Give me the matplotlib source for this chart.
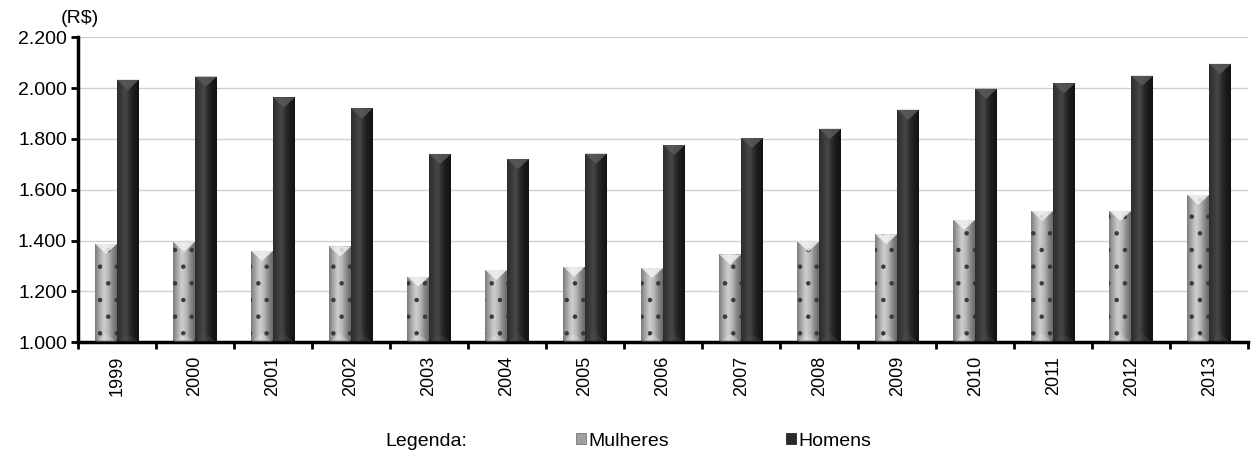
import numpy as np
import matplotlib.pyplot as plt
from matplotlib.patches import Polygon, Rectangle
from matplotlib.colors import LinearSegmentedColormap
from matplotlib.ticker import FuncFormatter

plt.rcParams['font.family'] = ['Liberation Sans', 'DejaVu Sans']

# Rendimento médio (R$) por sexo
anos = ['1999', '2000', '2001', '2002', '2003', '2004', '2005', '2006',
        '2007', '2008', '2009', '2010', '2011', '2012', '2013']
mulheres = [1387, 1395, 1359, 1377, 1258, 1284, 1297, 1292,
            1345, 1396, 1425, 1482, 1517, 1517, 1580]
homens = [2033, 2046, 1964, 1921, 1741, 1721, 1742, 1776,
          1804, 1840, 1915, 1998, 2020, 2049, 2096]

y_min, y_max = 1000, 2200
bar_w = 0.28
fs = 14

# shaded "cylinder" look for each series
cmap_m = LinearSegmentedColormap.from_list(
    'm', ['#7c7c7c', '#a8a8a8', '#cfcfcf', '#b8b8b8', '#8a8a8a', '#6a6a6a'])
cmap_h = LinearSegmentedColormap.from_list(
    'h', ['#2c2c2c', '#3a3a3a', '#484848', '#2a2a2a', '#1a1a1a', '#121212'])
grad = np.linspace(0, 1, 64).reshape(1, -1)

fig = plt.figure(figsize=(12.52, 4.57), dpi=100)
ax = fig.add_axes([0.0623, 0.2516, 0.9347, 0.6664])

x = np.arange(len(anos))
plt.rcParams['hatch.linewidth'] = 0.8
bars_m = ax.bar(x - bar_w / 2, np.array(mulheres) - y_min, bar_w, bottom=y_min,
                color='none', edgecolor='#3a3a3a', linewidth=0, hatch='.', zorder=3)
bars_h = ax.bar(x + bar_w / 2, np.array(homens) - y_min, bar_w, bottom=y_min,
                color='none', linewidth=0, zorder=3)

v_depth = 40  # depth of the bevel at the top of each bar
for bars, cmap, tip in [(bars_m, cmap_m, '#f2f2f2'), (bars_h, cmap_h, '#5a5a5a')]:
    for b in bars:
        x0 = b.get_x()
        x1 = x0 + b.get_width()
        top = b.get_y() + b.get_height()
        im = ax.imshow(grad, extent=[x0, x1, y_min, top], aspect='auto',
                       cmap=cmap, zorder=2, interpolation='bicubic')
        im.set_clip_path(b)
        ax.add_patch(Polygon([[x0, top], [x1, top], [(x0 + x1) / 2, top - v_depth]],
                             closed=True, facecolor=tip, edgecolor='none',
                             zorder=4, alpha=0.85))
        ax.add_patch(Polygon([[x0, y_min], [x1, y_min], [(x0 + x1) / 2, y_min + v_depth * 0.8]],
                             closed=True, facecolor=tip, edgecolor='none',
                             zorder=4, alpha=0.25))

ax.set_xlim(-0.5, len(anos) - 0.5)
ax.set_ylim(y_min, y_max)
ax.set_yticks(np.arange(y_min, y_max + 1, 200))
ax.yaxis.set_major_formatter(FuncFormatter(lambda v, p: f'{int(v):,}'.replace(',', '.')))
ax.grid(axis='y', color='#d0d0d0', linewidth=1.0, zorder=0)
ax.set_axisbelow(True)

# category labels centred, ticks on category boundaries
ax.set_xticks(x)
ax.set_xticklabels(anos, rotation=90, fontsize=13)
ax.set_xticks(np.arange(-0.5, len(anos)), minor=True)
ax.tick_params(axis='x', which='major', length=0, pad=10)
ax.tick_params(axis='x', which='minor', length=5, width=2, direction='out')
ax.tick_params(axis='y', length=5, width=2, direction='out', labelsize=fs, pad=3)

for s in ['top', 'right']:
    ax.spines[s].set_visible(False)
for s in ['left', 'bottom']:
    ax.spines[s].set_linewidth(2.5)
    ax.spines[s].set_color('black')

fig.text(0.0487, 0.960, '(R$)', fontsize=fs, va='center', ha='left')

# legend
fig.text(0.3075, 0.035, 'Legenda:', fontsize=fs, va='center', ha='left')
h_m = Rectangle((0, 0), 1, 1, facecolor='#a0a0a0', edgecolor='#666666', linewidth=0.5)
h_h = Rectangle((0, 0), 1, 1, facecolor='#2a2a2a', edgecolor='#111111', linewidth=0.5)
fig.legend([h_m, h_h], ['Mulheres', 'Homens'], loc='center left',
           bbox_to_anchor=(0.4600, 0.035), ncol=2, frameon=False,
           fontsize=fs, handlelength=0.5, handleheight=0.5,
           handletextpad=0.15, columnspacing=6.0, borderpad=0, borderaxespad=0)

plt.savefig('out.png', dpi=100)
